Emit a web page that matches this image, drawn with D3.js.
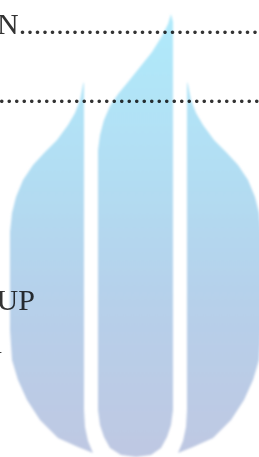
<!DOCTYPE html>
<html>
<head>
<meta charset="utf-8">
<script src="https://cdn.jsdelivr.net/npm/d3@7"></script>
<style>
    html, body { margin: 0; padding: 0; background: #fff; overflow: hidden; }
    svg { display: block; }
    .copy text { font-family: "Liberation Serif", "Times New Roman", serif; fill: #333; }
    .logo { mix-blend-mode: multiply; }
</style>
</head>
<body>
<div id="chart"></div>
<script>
// text rows of the page behind the watermark
const textRows = [
    'N' + '.'.repeat(40),
    '.'.repeat(40),
    'UP',
    'N'
];

// watermark outline, u = offset from logo centre, v = depth from top tip
const leftFlame = [
    [-52, 68], [-55.5, 86], [-60.5, 99], [-67.5, 111], [-78.5, 126], [-90.5, 138],
    [-102.5, 151], [-112.5, 166], [-119.5, 183], [-123.5, 199], [-125.5, 218],
    [-125.5, 316], [-123.5, 346], [-117.5, 366], [-108.5, 386], [-95.5, 406],
    [-77.5, 424], [-57.5, 433], [-42.5, 439], [-47.5, 427], [-50.5, 413],
    [-51.5, 396], [-51.5, 70]
];
const middleFlame = [
    [35.5, 0], [37.5, 8], [37.5, 396], [35.5, 411], [31.5, 423], [25.5, 434],
    [15.5, 441], [0.5, 443], [-14.5, 441], [-25.5, 434], [-31.5, 423], [-35.5, 411],
    [-37.5, 396], [-37.5, 136], [-35.5, 121], [-31.5, 106], [-25.5, 92], [-17.5, 80],
    [-7.5, 68], [4.5, 53], [16.5, 38], [26.5, 22], [32.5, 10]
];
// right flame is the left one mirrored
const rightFlame = leftFlame.map(([u, v]) => [-u, v]);
const flames = [leftFlame, middleFlame, rightFlame];

const gradientStops = [
    { offset: 0, color: '#b0eafb' },
    { offset: 0.35, color: '#b2def3' },
    { offset: 0.65, color: '#b6d0ea' },
    { offset: 1, color: '#bfc8e2' }
];

const width = 259;
const height = 457;

const svg = d3.select('#chart')
    .append('svg')
    .attr('width', width)
    .attr('height', height);

// page text
const rowLayout = [
    { x: -3, y: 33.5 },
    { x: -2, y: 103 },
    { x: -3.5, y: 310 },
    { x: -19.5, y: 371 }
];

svg.append('g')
    .attr('class', 'copy')
    .selectAll('text')
    .data(textRows)
    .join('text')
    .attr('x', (d, i) => rowLayout[i].x)
    .attr('y', (d, i) => rowLayout[i].y)
    .style('font-size', '30px')
    .text((d) => d);

// logo
const xScale = d3.scaleLinear().domain([-126, 126]).range([9.5, 261.5]);
const yScale = d3.scaleLinear().domain([0, 443]).range([14, 457]);

const defs = svg.append('defs');
const grad = defs.append('linearGradient')
    .attr('id', 'flameFill')
    .attr('gradientUnits', 'userSpaceOnUse')
    .attr('x1', 0).attr('x2', 0)
    .attr('y1', yScale(0)).attr('y2', yScale(443));
grad.selectAll('stop')
    .data(gradientStops)
    .join('stop')
    .attr('offset', (d) => d.offset)
    .attr('stop-color', (d) => d.color);

defs.append('filter')
    .attr('id', 'soft')
    .append('feGaussianBlur')
    .attr('stdDeviation', 0.8);

const line = d3.line()
    .x((d) => xScale(d[0]))
    .y((d) => yScale(d[1]))
    .curve(d3.curveLinearClosed);

svg.append('g')
    .attr('class', 'logo')
    .attr('filter', 'url(#soft)')
    .selectAll('path')
    .data(flames)
    .join('path')
    .attr('d', line)
    .attr('fill', 'url(#flameFill)');
</script>
</body>
</html>
